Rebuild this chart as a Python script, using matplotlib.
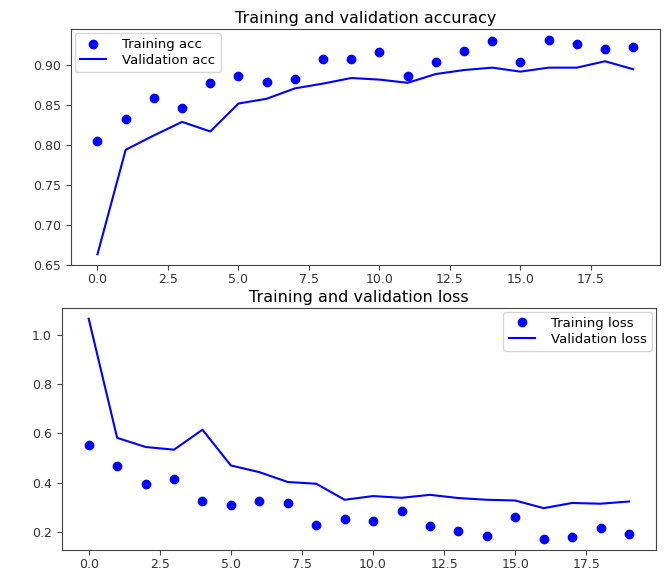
import matplotlib
matplotlib.use("Agg")
import matplotlib.pyplot as plt

# values
epochs = list(range(20))

acc = [0.805, 0.833, 0.859, 0.847, 0.878, 0.887, 0.879, 0.883, 0.908, 0.908,
       0.916, 0.886, 0.904, 0.918, 0.930, 0.904, 0.932, 0.927, 0.920, 0.923]
val_acc = [0.663, 0.794, 0.812, 0.829, 0.817, 0.852, 0.858, 0.871, 0.877, 0.884,
           0.882, 0.878, 0.889, 0.894, 0.897, 0.892, 0.897, 0.897, 0.905, 0.895]

loss = [0.554, 0.468, 0.396, 0.414, 0.324, 0.311, 0.324, 0.319, 0.227, 0.251,
        0.243, 0.284, 0.223, 0.205, 0.186, 0.261, 0.172, 0.182, 0.215, 0.193]
val_loss = [1.065, 0.582, 0.545, 0.534, 0.615, 0.470, 0.443, 0.403, 0.396, 0.331,
            0.346, 0.339, 0.351, 0.338, 0.331, 0.328, 0.297, 0.318, 0.315, 0.324]

W, H = 667, 571
fig = plt.figure(figsize=(W / 100, H / 100), dpi=100)

def box(x0, y0, x1, y1):
    # pixel box -> figure fraction
    return [x0 / W, 1 - y1 / H, (x1 - x0) / W, (y1 - y0) / H]

ax1 = fig.add_axes(box(70.7, 29, 660, 265))
ax1.plot(epochs, acc, 'bo', label='Training acc')
ax1.plot(epochs, val_acc, 'b', label='Validation acc')
ax1.set_title('Training and validation accuracy', fontsize=11.5, pad=4)
ax1.legend(loc='upper left', fontsize=9.5, borderaxespad=0.3,
           handletextpad=1.2, labelspacing=0.2)

ax2 = fig.add_axes(box(61.7, 307.7, 656, 550))
ax2.plot(epochs, loss, 'bo', label='Training loss')
ax2.plot(epochs, val_loss, 'b', label='Validation loss')
ax2.set_title('Training and validation loss', fontsize=11.5, pad=4)
ax2.legend(loc='upper right', fontsize=9.5, borderaxespad=0.3,
           handletextpad=1.2, labelspacing=0.2)

for ax in (ax1, ax2):
    ax.tick_params(labelsize=9, color='#444444', labelcolor='#333333')
    ax.tick_params(axis='x', pad=2.5)
    for s in ax.spines.values():
        s.set_color('#444444')

fig.savefig('out.png', dpi=100)
